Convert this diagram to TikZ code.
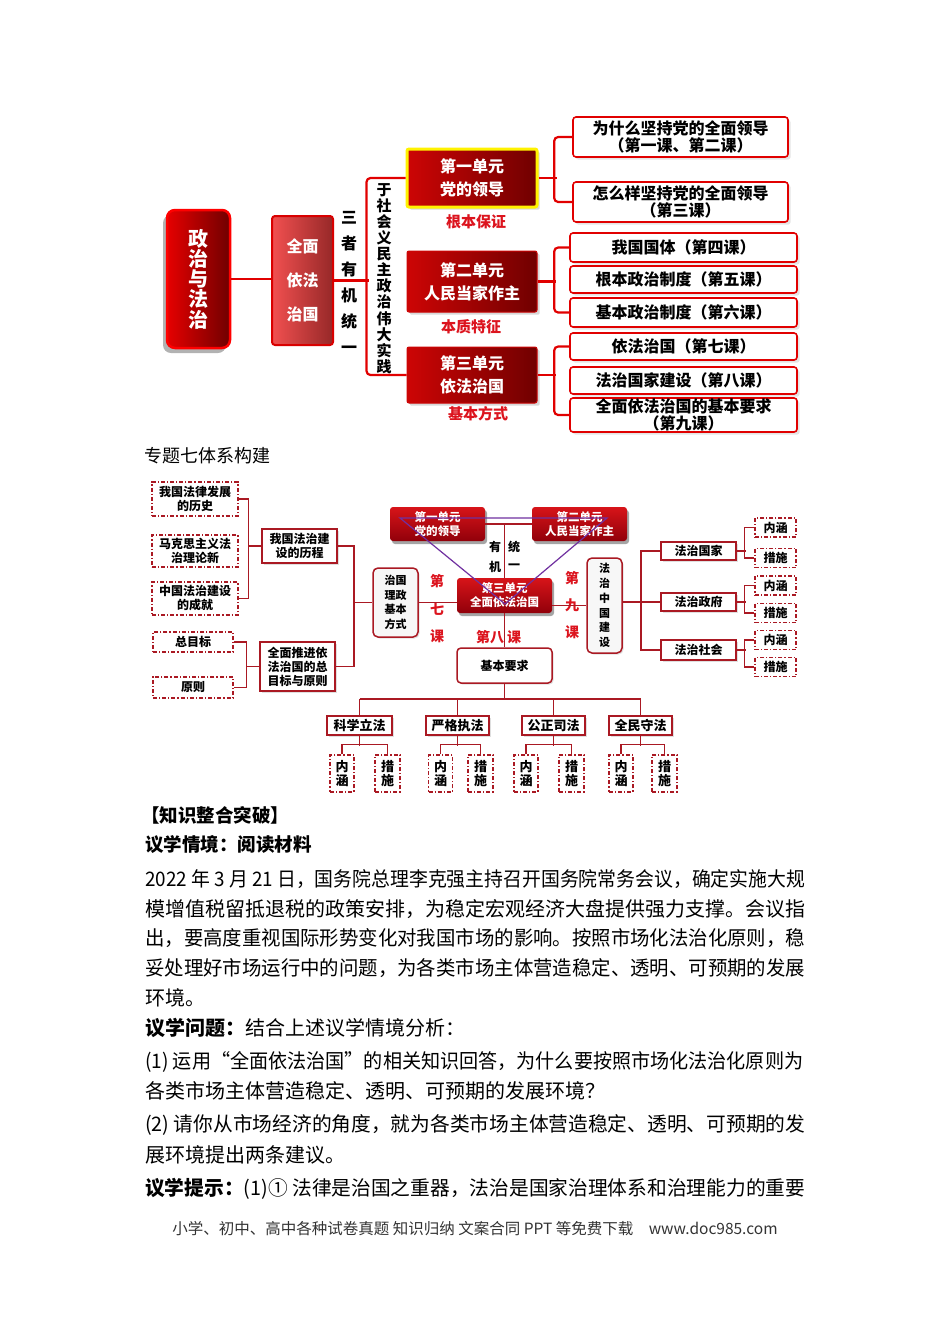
\documentclass[tikz,border=0pt]{standalone}
\usepackage{graphicx}
\usepackage{fontspec}
\setmainfont{Noto Sans CJK SC}
\usetikzlibrary{shadows}

\definecolor{lred}{RGB}{225,0,0}
\definecolor{dred}{RGB}{170,25,35}
\definecolor{ured}{RGB}{205,5,5}
\definecolor{udark}{RGB}{112,0,0}
\definecolor{labred}{RGB}{220,20,30}
\definecolor{tri}{RGB}{112,48,160}
\definecolor{qmleft}{RGB}{242,80,80}
\definecolor{qmright}{RGB}{150,40,40}
\definecolor{jtop}{RGB}{215,20,25}
\definecolor{jbot}{RGB}{145,0,10}

% full text line, set to the page text width
\newcommand{\fitline}[2][660pt]{\resizebox{#1}{\height}{#2}}

\tikzset{
  topline/.style={lred,line width=2.2pt},
  dline/.style={dred,line width=1.6pt},
  unitbox/.style={rounded corners=2pt,left color=ured,right color=udark,draw=ured,line width=1pt,
    text=white,align=center,font=\bfseries\fontsize{16}{23}\selectfont,minimum width=130pt,
    drop shadow={opacity=0.3}},
  lessonbox/.style={draw=lred,line width=1.6pt,rounded corners=3pt,fill=white,align=center,
    font=\bfseries\fontsize{16}{14}\selectfont,minimum width=227pt,drop shadow={opacity=0.2}},
  keyword/.style={text=labred,font=\bfseries\fontsize{15}{15}\selectfont},
  dashbox/.style={draw=dred,line width=1.3pt,dash pattern=on 4pt off 2pt on 1.2pt off 2pt,
    fill=white,align=center,font=\bfseries\fontsize{12}{14}\selectfont},
  sbox/.style={draw=dred,line width=1.5pt,fill=white,align=center,font=\bfseries\fontsize{12}{14}\selectfont,
    drop shadow={opacity=0.25,shadow xshift=1.5pt,shadow yshift=-1.5pt}},
  redunit/.style={rounded corners=3pt,top color=jtop,bottom color=jbot,text=white,align=center,
    font=\bfseries\fontsize{11.5}{14}\selectfont,minimum width=95pt,
    drop shadow={opacity=0.7,shadow xshift=2pt,shadow yshift=-3pt}},
  lessonnum/.style={text=labred,font=\bfseries\fontsize{14}{14}\selectfont},
  bodytext/.style={anchor=west,font=\fontsize{20}{20}\selectfont},
  headtext/.style={anchor=west,font=\bfseries\fontsize{18.5}{18.5}\selectfont},
}

\begin{document}
\begin{tikzpicture}[x=1pt,y=-1pt,every node/.style={inner sep=0pt}]
  \useasboundingbox[fill=white] (0,0) rectangle (950,1344);

  % Top map
  \node[rounded corners=8pt,left color=red!90!black,right color=udark,draw=red,line width=2.5pt,
    minimum width=63pt,minimum height=138pt,text=white,align=center,
    font=\bfseries\fontsize{20}{20.3}\selectfont,
    drop shadow={opacity=0.6,shadow xshift=-4pt,shadow yshift=-5pt}] (zz) at (198.5,279) {政\\治\\与\\法\\治};
  \node[rounded corners=3pt,left color=qmleft,right color=qmright,draw=red!85!black,line width=2pt,
    minimum width=61pt,minimum height=129pt,text=white,align=center,
    font=\bfseries\fontsize{16}{34}\selectfont] (qm) at (302.5,280.5) {全面\\依法\\治国};
  \node[align=center,font=\bfseries\fontsize{16}{26}\selectfont] (sz) at (349,282) {三\\者\\有\\机\\统\\一};
  \node[align=center,font=\bfseries\fontsize{15}{16.1}\selectfont] (yu) at (384,278.5)
    {于\\社\\会\\义\\民\\主\\政\\治\\伟\\大\\实\\践};

  \node[unitbox,draw=yellow,line width=3pt,minimum height=58pt] (u1) at (472,178) {第一单元\\党的领导};
  \node[unitbox,minimum height=61pt] (u2) at (472,281.5) {第二单元\\人民当家作主};
  \node[unitbox,minimum height=56pt] (u3) at (472,375) {第三单元\\依法治国};
  \node[keyword] (lab1) at (476,222) {根本保证};
  \node[keyword] (lab2) at (471,327) {本质特征};
  \node[keyword] (lab3) at (478,414) {基本方式};

  \node[lessonbox,minimum width=215pt,minimum height=40pt] (a1) at (680.5,137) {为什么坚持党的全面领导\\（第一课、第二课）};
  \node[lessonbox,minimum width=215pt,minimum height=40pt] (a2) at (680.5,202) {怎么样坚持党的全面领导\\（第三课）};
  \node[lessonbox,minimum height=29pt] (b1) at (683.5,247.5) {我国国体（第四课）};
  \node[lessonbox,minimum height=27pt] (b2) at (683.5,279.5) {根本政治制度（第五课）};
  \node[lessonbox,minimum height=29pt] (b3) at (683.5,312.5) {基本政治制度（第六课）};
  \node[lessonbox,minimum height=27pt] (c1) at (683.5,346.5) {依法治国（第七课）};
  \node[lessonbox,minimum height=27pt] (c2) at (683.5,380.5) {法治国家建设（第八课）};
  \node[lessonbox,minimum height=34pt] (c3) at (683.5,415) {全面依法治国的基本要求\\（第九课）};

  \draw[topline] (zz.east) -- (zz.east -| qm.west);
  \draw[topline] (qm.east) -- ++(35,0);
  \draw[topline,rounded corners=4pt] (u1.west) -- ++(-39,0) |- (u3.west);
  \draw[topline] (u1.east) -- ++(18,0);
  \draw[topline,rounded corners=4pt] (a1.west) -- ++(-18,0) |- (a2.west);
  \draw[topline] (u2.east) -- ++(18,0);
  \draw[topline,rounded corners=4pt] (b1.west) -- ++(-15,0) |- (b3.west);
  \draw[topline] (u3.east) -- ++(18,0);
  \draw[topline,rounded corners=4pt] (c1.west) -- ++(-15,0) |- (c3.west);

  % Second map
  \node[anchor=west,font=\fontsize{18}{18}\selectfont] (title) at (144,456) {专题七体系构建};

  \node[dashbox,minimum width=86pt,minimum height=34pt] (h1) at (195,499) {我国法律发展\\的历史};
  \node[dashbox,minimum width=86pt,minimum height=32pt] (h2) at (195,551) {马克思主义法\\治理论新};
  \node[dashbox,minimum width=86pt,minimum height=33pt] (h3) at (195,598.5) {中国法治建设\\的成就};
  \node[sbox,minimum width=75pt,minimum height=34pt] (hist) at (299.5,546) {我国法治建\\设的历程};
  \node[dashbox,minimum width=80pt,minimum height=20pt] (g1) at (193,642) {总目标};
  \node[dashbox,minimum width=80pt,minimum height=21pt] (g2) at (193,687.5) {原则};
  \node[sbox,minimum width=75pt,minimum height=49pt] (goal) at (297.5,666.5) {全面推进依\\法治国的总\\目标与原则};
  \node[sbox,rounded corners=5pt,fill=gray!6,minimum width=45pt,minimum height=69pt,
    font=\bfseries\fontsize{11}{14.5}\selectfont] (zg) at (395.5,602.5) {治国\\理政\\基本\\方式};

  \coordinate (hb) at (248,546);
  \coordinate (lb) at (353,602.5);
  \coordinate (gb) at (246,666.5);
  \draw[dline] (h1.east) -- ++(10,0) |- (h3.east);
  \draw[dline] (hb) -- (hist.west);
  \draw[dline] (hist.east) -- ++(16,0) |- (goal.east);
  \draw[dline] (lb) -- (zg.west);
  \draw[dline] (g1.east) -- ++(13,0) |- (g2.east);
  \draw[dline] (gb) -- (goal.west);

  \node[redunit,minimum height=34pt] (jd1) at (437.5,524) {第一单元\\党的领导};
  \node[redunit,minimum height=34pt] (jd2) at (579.5,524) {第二单元\\人民当家作主};
  \node[redunit,minimum height=35pt] (jd3) at (504.5,595.5) {第三单元\\全面依法治国};
  \draw[dline] (jd1) -- (jd2);
  \draw[dline] (jd3.north) -- (jd3.north |- jd1.east);
  \node[font=\bfseries\fontsize{12}{12}\selectfont] (you) at (495,547) {有};
  \node[font=\bfseries\fontsize{12}{12}\selectfont] (tong) at (514,547) {统};
  \node[font=\bfseries\fontsize{12}{12}\selectfont] (ji) at (495,567) {机};
  \node[font=\bfseries\fontsize{12}{12}\selectfont] (yi) at (514,567) {一};

  % triangle
  \coordinate (t1) at (400,518);
  \coordinate (t2) at (607,518);
  \coordinate (t3) at (505,604);
  \draw[tri,line width=1.2pt] (t1) -- (t2) -- (t3) -- cycle;

  \node[lessonnum,align=center,font=\bfseries\fontsize{14}{27.5}\selectfont] (d7) at (437,609) {第\\七\\课};
  \node[lessonnum,align=center,font=\bfseries\fontsize{14}{27}\selectfont] (d9) at (572,605) {第\\九\\课};
  \node[lessonnum] (d8a) at (490,637) {第八};
  \node[lessonnum] (d8b) at (514,637) {课};

  \node[sbox,rounded corners=5pt,fill=gray!6,minimum width=35pt,minimum height=95pt,
    font=\bfseries\fontsize{11}{14.8}\selectfont] (fz) at (604.5,605.5) {法\\治\\中\\国\\建\\设};
  \draw[dline] (zg.east) -- (zg.east -| jd3.west);
  \draw[dline] (jd3.east |- fz.west) -- (fz.west);

  \node[sbox,rounded corners=4pt,minimum width=95pt,minimum height=35pt] (jb) at (504.5,665.5) {基本要求};
  \draw[dline] (jd3.south) -- (jb.north);
  \coordinate (bar) at (504.5,699);
  \draw[dline] (jb.south) -- (bar);

  % four principles
  \node[sbox,minimum width=65pt,minimum height=19pt,font=\bfseries\fontsize{13}{13}\selectfont] (k1) at (359.5,725.5) {科学立法};
  \node[sbox,minimum width=63pt,minimum height=19pt,font=\bfseries\fontsize{13}{13}\selectfont] (k2) at (457.5,725.5) {严格执法};
  \node[sbox,minimum width=63pt,minimum height=19pt,font=\bfseries\fontsize{13}{13}\selectfont] (k3) at (553.5,725.5) {公正司法};
  \node[sbox,minimum width=63pt,minimum height=19pt,font=\bfseries\fontsize{13}{13}\selectfont] (k4) at (640.5,725.5) {全民守法};
  \draw[dline] (k1.north |- bar) -- (k4.north |- bar);
  \foreach \lw/\xn/\xc in {k1/342/387.5,k2/440.5/480.5,k3/526/571.5,k4/621/664.5}{
    \draw[dline] (\lw.north |- bar) -- (\lw.north);
    \node[dashbox,minimum width=24pt,minimum height=37pt,font=\bfseries\fontsize{13}{14}\selectfont] (\lw n) at (\xn,773.5) {内\\涵};
    \node[dashbox,minimum width=25pt,minimum height=37pt,font=\bfseries\fontsize{13}{14}\selectfont] (\lw c) at (\xc,773.5) {措\\施};
    \draw[dline] (\lw.south) -- ++(0,10);
    \draw[dline] (\lw n.north) -- ++(0,-10) -| (\lw c.north);
  }

  % right branch
  \node[sbox,minimum width=75pt,minimum height=18pt] (r1) at (698.5,551) {法治国家};
  \node[sbox,minimum width=75pt,minimum height=18pt] (r2) at (698.5,602) {法治政府};
  \node[sbox,minimum width=75pt,minimum height=20pt] (r3) at (698.5,650) {法治社会};
  \draw[dline] (r1.west) -- ++(-19,0) |- (r3.west);
  \draw[dline] (fz.east |- r2.west) -- (r2.west);
  \foreach \rw/\yn/\yc in {r1/527.5/558,r2/585.5/613,r3/640/667}{
    \node[dashbox,minimum width=41pt,minimum height=19pt] (\rw n) at (775.5,\yn) {内涵};
    \node[dashbox,minimum width=41pt,minimum height=19pt] (\rw c) at (775.5,\yc) {措施};
    \draw[dline] (\rw n.west) -- ++(-10,0) |- (\rw c.west);
    \draw[dline] (\rw.east) -- ++(9,0);
  }

  % text
  \node[headtext] (zs) at (141,815) {【知识整合突破】};
  \node[headtext] (qj) at (145,845) {议学情境：阅读材料};
  \node[bodytext] (p1) at (145,879) {\fitline{2022 年 3 月 21 日，国务院总理李克强主持召开国务院常务会议，确定实施大规}};
  \node[bodytext] (p2) at (145,909) {\fitline{模增值税留抵退税的政策安排，为稳定宏观经济大盘提供强力支撑。会议指}};
  \node[bodytext] (p3) at (145,938) {\fitline{出，要高度重视国际形势变化对我国市场的影响。按照市场化法治化原则，稳}};
  \node[bodytext] (p4) at (145,968) {\fitline{妥处理好市场运行中的问题，为各类市场主体营造稳定、透明、可预期的发展}};
  \node[bodytext] (p5) at (145,998) {环境。};
  \node[bodytext] (q0) at (145,1028) {\textbf{议学问题：}结合上述议学情境分析：};
  \node[bodytext] (q1) at (145,1062) {\fitline[658pt]{(1) 运用“全面依法治国”的相关知识回答，为什么要按照市场化法治化原则为}};
  \node[bodytext] (q1b) at (145,1091) {各类市场主体营造稳定、透明、可预期的发展环境？};
  \node[bodytext] (q2) at (145,1125) {\fitline{(2) 请你从市场经济的角度，就为各类市场主体营造稳定、透明、可预期的发}};
  \node[bodytext] (q2b) at (145,1155) {展环境提出两条建议。};
  \node[bodytext] (ts) at (145,1189) {\fitline{\textbf{议学提示：}(1)① 法律是治国之重器，法治是国家治理体系和治理能力的重要}};
  \node[font=\fontsize{15.5}{15.5}\selectfont,text=black!80] (foot) at (475,1229)
    {小学、初中、高中各种试卷真题 知识归纳 文案合同 PPT 等免费下载\quad www.doc985.com};
\end{tikzpicture}
\end{document}
